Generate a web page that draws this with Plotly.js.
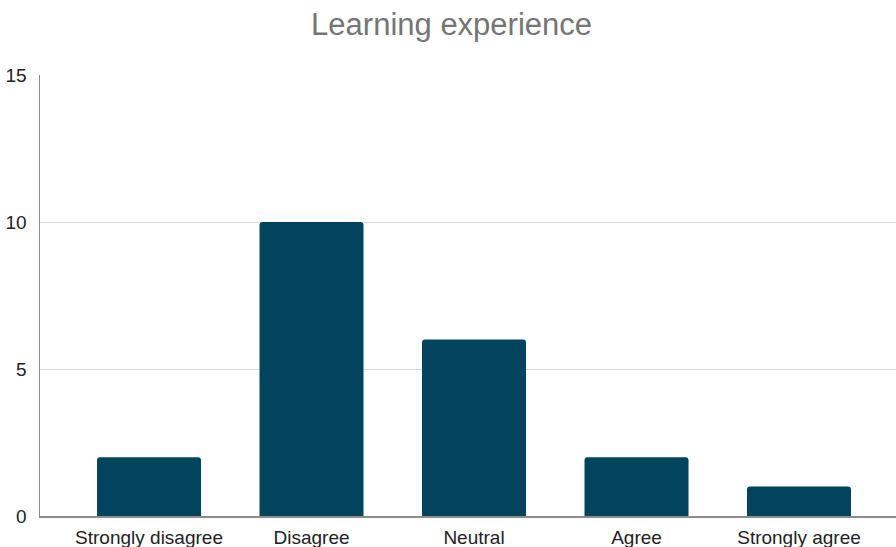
<!DOCTYPE html>
<html>
<head>
<meta charset="utf-8">
<script src="https://cdn.plot.ly/plotly-3.0.1.min.js"></script>
<style>html,body{margin:0;padding:0;background:#fff;}#chart{width:896px;height:547px;}</style>
</head>
<body>
<div id="chart"></div>
<script>
const categories = ["Strongly disagree", "Disagree", "Neutral", "Agree", "Strongly agree"];
const counts = [2, 10, 6, 2, 1];
const yTicks = [0, 5, 10, 15];

const trace = {
  type: "bar",
  x: categories,
  y: counts,
  width: 0.64,
  marker: { color: "#02435e", cornerradius: 3 },
  hoverinfo: "x+y"
};

const layout = {
  width: 896,
  height: 547,
  margin: { l: 40, r: 0, t: 75, b: 31, pad: 0 },
  paper_bgcolor: "#ffffff",
  plot_bgcolor: "#ffffff",
  font: { family: "Liberation Sans, Arial, sans-serif", size: 19, color: "#222222" },
  title: {
    text: "Learning experience",
    font: { family: "Liberation Sans, Arial, sans-serif", size: 31, color: "#757575" },
    x: 0.504, xanchor: "center", y: 0.955, yanchor: "middle"
  },
  showlegend: false,
  xaxis: {
    type: "category",
    range: [-0.671, 4.597],
    showgrid: false,
    showline: true,
    linecolor: "#8c8c8c",
    linewidth: 1.5,
    ticks: "",
    ticklabelstandoff: 4,
    tickfont: { size: 19, color: "#222222" },
    fixedrange: true,
    automargin: false
  },
  yaxis: {
    range: [0, 15],
    tickvals: yTicks,
    ticktext: yTicks.map(String),
    showgrid: true,
    gridcolor: "#d9d9d9",
    gridwidth: 1,
    showline: true,
    linecolor: "#8c8c8c",
    linewidth: 1.5,
    zeroline: false,
    ticks: "",
    ticklabelstandoff: 8,
    tickfont: { size: 19, color: "#222222" },
    fixedrange: true,
    automargin: false
  }
};

Plotly.newPlot("chart", [trace], layout, { displayModeBar: false, staticPlot: true });
</script>
</body>
</html>
